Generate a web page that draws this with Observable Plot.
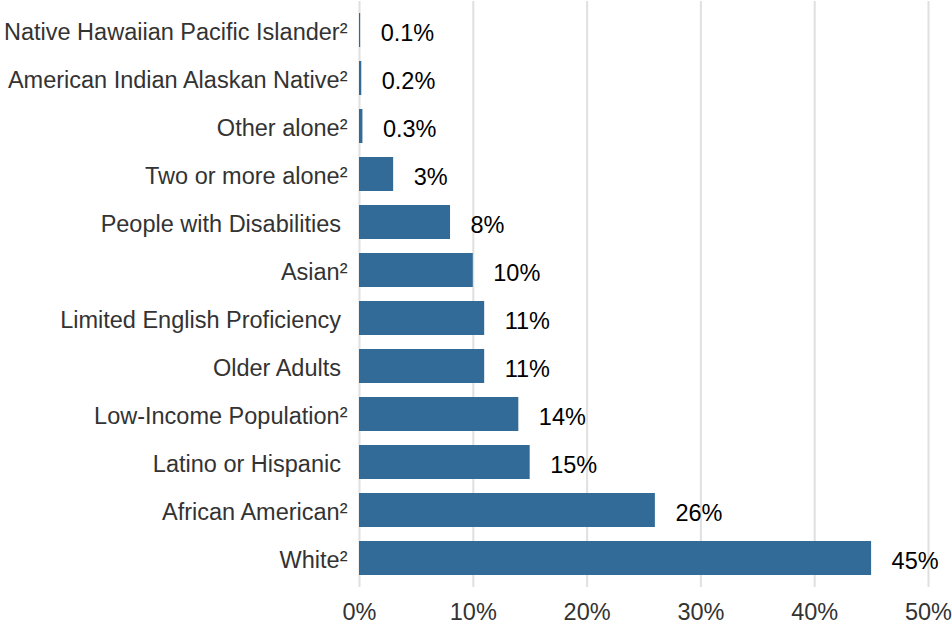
<!DOCTYPE html>
<html><head><meta charset="utf-8">
<script src="https://cdn.jsdelivr.net/npm/d3@7"></script>
<script src="https://cdn.jsdelivr.net/npm/@observablehq/plot@0.6"></script>
<style>body{margin:0;background:#fff} svg{display:block}</style>
</head><body><div id="chart"></div>
<script>
const categories = [
  "Native Hawaiian Pacific Islander²",
  "American Indian Alaskan Native²",
  "Other alone²",
  "Two or more alone²",
  "People with Disabilities\u00a0",
  "Asian²",
  "Limited English Proficiency\u00a0",
  "Older Adults\u00a0",
  "Low-Income Population²",
  "Latino or Hispanic\u00a0",
  "African American²",
  "White²"
];
const values = [0.1, 0.2, 0.3, 3, 8, 10, 11, 11, 14, 15, 26, 45];
const valueLabels = ["0.1%", "0.2%", "0.3%", "3%", "8%", "10%", "11%", "11%", "14%", "15%", "26%", "45%"];
const xTicks = [0, 10, 20, 30, 40, 50];

const data = categories.map((c, i) => ({category: c, value: values[i], label: valueLabels[i]}));

const chart = Plot.plot({
  width: 952, height: 624,
  marginLeft: 359, marginRight: 24, marginTop: 1, marginBottom: 37,
  style: {fontFamily: "'Liberation Sans', Arial, sans-serif", fontSize: "23.5px", background: "#fff"},
  x: {domain: [0, 50]},
  y: {domain: categories, paddingInner: 0.3, paddingOuter: 0.15},
  marks: [
    Plot.gridX(xTicks, {stroke: "#e0e0e0", strokeOpacity: 1, strokeWidth: 2}),
    Plot.barX(data, {y: "category", x: "value", fill: "#326b97"}),
    Plot.text(data, {y: "category", x: "value", text: "label", textAnchor: "start", dx: 20, dy: 3, fill: "#000", fontSize: 23.5}),
    Plot.axisX({ticks: xTicks, tickFormat: d => d + "%", tickSize: 0, tickPadding: 16, fill: "#333", fontSize: 23.5, label: null}),
    Plot.axisY({tickSize: 0, tickPadding: 12, dy: 2, fill: "#333", fontSize: 23.5, label: null})
  ]
});
document.getElementById("chart").append(chart);
</script>
</body></html>
